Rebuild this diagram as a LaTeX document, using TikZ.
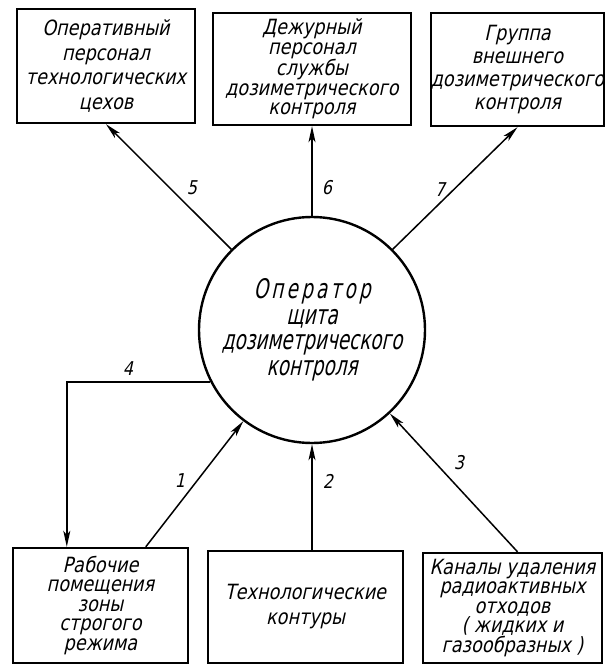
\documentclass[tikz,border=0pt]{standalone}
\usepackage{fontspec}
\newfontfamily\gost{DejaVu Sans}[FakeSlant=0.22,FakeStretch=0.84]
\newfontfamily\gostc{DejaVu Sans}[FakeSlant=0.22,FakeStretch=0.68]
\usetikzlibrary{arrows.meta,calc}
\begin{document}
\begin{tikzpicture}[x=1pt,y=-1pt,
  boxnode/.style={draw,line width=2.4pt,rectangle,inner sep=0pt,align=center,
     font=\gost\fontsize{21}{24.5}\selectfont},
  arr/.style={line width=1.5pt,-{Stealth[length=16pt,width=7pt,inset=4pt]}},
  lbl/.style={font=\gost\fontsize{19}{19}\selectfont,inner sep=0pt}]
\useasboundingbox (0,0) rectangle (608,666);
\fill[white] (0,0) rectangle (608,666);
% top boxes
\node[boxnode,minimum width=178pt,minimum height=114pt] (b1) at (106,66)
  {Оперативный\\персонал\\технологических\\цехов};
\node[boxnode,minimum width=198pt,minimum height=112pt,
  font=\gost\fontsize{21}{19.5}\selectfont] (b2) at (312,69)
  {Дежурный\\персонал\\службы\\дозиметрического\\контроля};
\node[boxnode,minimum width=171pt,minimum height=113pt,
  font=\gost\fontsize{21}{23}\selectfont] (b3) at (517.5,69.5)
  {Группа\\внешнего\\дозиметрического\\контроля};
% bottom boxes
\node[boxnode,minimum width=175pt,minimum height=115pt,
  font=\gost\fontsize{21}{19.5}\selectfont] (b4) at (100.5,605.5)
  {Рабочие\\помещения\\зоны\\строгого\\режима};
\node[boxnode,minimum width=195pt,minimum height=112pt,
  font=\gost\fontsize{21}{25}\selectfont] (b5) at (305.5,607)
  {Технологические\\контуры};
\node[boxnode,minimum width=179pt,minimum height=110pt,
  font=\gost\fontsize{21}{19.5}\selectfont] (b6) at (512.5,608)
  {Каналы удаления\\радиоактивных\\отходов\\( жидких и\\газообразных )};
% circle
\node[draw,circle,line width=2.4pt,minimum size=226pt,inner sep=0pt,align=center,
  font=\gostc\fontsize{27}{25.5}\selectfont] (c) at (312,330)
  {\addfontfeature{LetterSpace=12}Оператор\\щита\\дозиметрического\\контроля};
% named points
\path (b4.north west) ++(55,0) coordinate (t4);
\path (b4.north west) ++(134,0) coordinate (s1);
\path (b6.north) ++(5,0) coordinate (s3);
% connectors
\draw[arr] (c.135) -- (b1.south);
\draw[arr] (c.north) -- (b2.south);
\draw[arr] (c.45) -- (b3.south);
\draw[arr] (c.207) -| (t4);
\draw[arr] (s1) -- (c.233);
\draw[arr] (c.south |- b5.north) -- (c.south);
\draw[arr] (s3) -- (c.313);
% labels
\node[lbl] (l5) at (192,188) {5};
\node[lbl] (l6) at (327,188) {6};
\node[lbl] (l7) at (440,190) {7};
\node[lbl] (l4) at (128,369) {4};
\node[lbl] (l1) at (180,481) {1};
\node[lbl] (l2) at (328,481) {2};
\node[lbl] (l3) at (459,463) {3};
\end{tikzpicture}
\end{document}
